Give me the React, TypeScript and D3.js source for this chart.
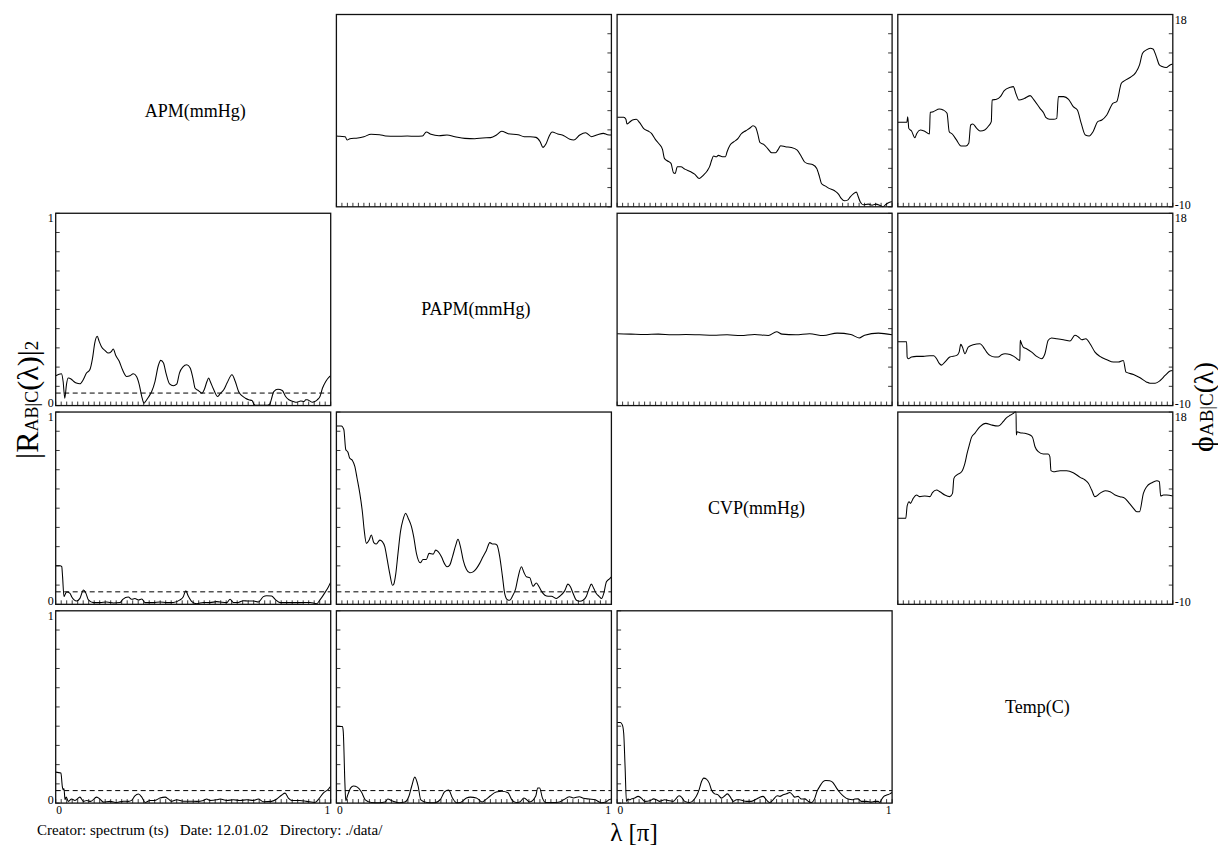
import React from "react";
import * as d3 from "d3";

const W = 1218;
const H = 847;

const variableLabels = ["APM(mmHg)", "PAPM(mmHg)", "CVP(mmHg)", "Temp(C)"];
const coherenceDomain: [number, number] = [0, 1];
const phaseDomain: [number, number] = [-10, 18];
const lambdaDomain: [number, number] = [0, 1];
const significanceLevel = 0.065;
const xTickIntervals = 50;
const yTickIntervals = 10;
const coherenceTickLabels = ["0", "1"];
const phaseTickLabels = ["-10", "18"];
const lambdaTickLabels = ["0", "1"];

type Pt = [number, number];

// phase spectra (upper triangle)
const phaseAPM_PAPM: Pt[] = [[0,0.31],[0.013,0.26],[0.032,0.21],[0.039,-0.28],[0.049,-0.08],[0.078,0.02],[0.1,0.21],[0.126,0.55],[0.157,0.5],[0.179,0.31],[0.215,0.26],[0.258,0.31],[0.287,0.26],[0.313,0.31],[0.327,0.89],[0.344,0.55],[0.373,0.35],[0.402,0.45],[0.431,0.21],[0.467,-0.04],[0.503,-0.08],[0.532,0.02],[0.561,0.07],[0.582,0.45],[0.601,0.99],[0.625,0.65],[0.661,0.5],[0.683,0.21],[0.705,0.21],[0.726,0.11],[0.741,-0.52],[0.751,-1.35],[0.762,-0.86],[0.774,0.31],[0.784,0.89],[0.805,0.6],[0.827,0.35],[0.849,-0.18],[0.863,-0.28],[0.885,0.45],[0.906,0.79],[0.928,0.21],[0.95,0.5],[0.971,0.69],[0.986,0.5],[1,0.45]];

const phaseAPM_CVP: Pt[] = [[0,3.03],[0.024,3.03],[0.032,2.74],[0.036,2.06],[0.046,2.35],[0.056,2.64],[0.07,2.74],[0.082,2.25],[0.096,1.42],[0.113,1.03],[0.125,0.69],[0.139,-0.18],[0.153,-0.86],[0.165,-1.64],[0.172,-2.95],[0.182,-3.29],[0.196,-3.68],[0.205,-5.04],[0.211,-5.14],[0.219,-4.17],[0.232,-4.17],[0.246,-4.51],[0.268,-4.9],[0.282,-5.24],[0.299,-5.87],[0.314,-5.38],[0.328,-4.75],[0.337,-4.07],[0.344,-3.19],[0.351,-2.61],[0.361,-2.71],[0.368,-2.51],[0.383,-2.71],[0.394,-2.71],[0.4,-1.98],[0.411,-1.01],[0.425,-0.52],[0.44,-0.03],[0.451,0.6],[0.468,1.08],[0.483,1.47],[0.494,1.81],[0.504,1.57],[0.511,0.69],[0.52,-0.67],[0.533,-0.91],[0.547,-1.49],[0.562,-2.13],[0.576,-2.13],[0.586,-1.64],[0.595,-1.1],[0.612,-1.25],[0.633,-1.35],[0.655,-1.74],[0.669,-2.61],[0.681,-3.44],[0.691,-3.68],[0.712,-3.88],[0.726,-4.41],[0.736,-5.63],[0.743,-6.6],[0.758,-6.99],[0.769,-7.28],[0.791,-7.67],[0.805,-8.15],[0.815,-8.78],[0.827,-9.13],[0.838,-9.03],[0.848,-8.54],[0.858,-8.15],[0.87,-7.86],[0.877,-8.54],[0.884,-9.27],[0.895,-9.71],[0.913,-9.61],[0.927,-9.76],[0.941,-9.61],[0.956,-9.81],[0.967,-10],[0.977,-9.66],[0.989,-9.37],[1,-9.27]];

const phaseAPM_Temp: Pt[] = [[0,2.3],[0.033,2.3],[0.036,3.12],[0.04,1.42],[0.05,1.03],[0.062,0.06],[0.069,0.69],[0.082,1.18],[0.096,1.03],[0.115,0.6],[0.118,3.76],[0.129,3.85],[0.151,4.24],[0.165,4.1],[0.179,3.61],[0.187,0.94],[0.198,0.6],[0.212,-0.18],[0.23,-1.15],[0.248,-1.15],[0.258,-0.76],[0.265,1.91],[0.273,2.06],[0.287,1.42],[0.301,1.03],[0.316,1.18],[0.33,1.76],[0.34,2.4],[0.343,5.56],[0.359,5.65],[0.373,6.04],[0.387,6.92],[0.409,7.4],[0.42,7.5],[0.43,6.43],[0.44,5.56],[0.459,5.75],[0.481,6.19],[0.495,5.56],[0.517,4.34],[0.531,3.61],[0.538,3.03],[0.552,2.74],[0.567,2.74],[0.578,2.88],[0.584,6.04],[0.603,6.04],[0.621,5.65],[0.638,4.58],[0.653,4.1],[0.667,2.15],[0.682,0.45],[0.696,0.31],[0.71,0.94],[0.727,2.4],[0.742,2.64],[0.76,3.37],[0.782,5.07],[0.796,5.31],[0.813,7.99],[0.825,8.37],[0.846,8.86],[0.865,9.54],[0.879,10.66],[0.89,12.36],[0.904,12.85],[0.918,13.09],[0.928,12.99],[0.94,11.87],[0.951,10.66],[0.961,10.42],[0.976,10.27],[0.99,10.66],[1,10.81]];

const phasePAPM_CVP: Pt[] = [[0,0.45],[0.05,0.4],[0.1,0.35],[0.15,0.4],[0.2,0.3],[0.25,0.35],[0.3,0.3],[0.35,0.25],[0.4,0.3],[0.45,0.2],[0.5,0.35],[0.55,0.2],[0.58,0.75],[0.6,0.4],[0.65,0.3],[0.7,0.45],[0.75,0.2],[0.8,0.55],[0.85,0.35],[0.88,-0.15],[0.9,0.25],[0.95,0.55],[1,0.3]];

const phasePAPM_Temp: Pt[] = [[0,-0.7],[0.032,-0.7],[0.034,-2.94],[0.038,-3.18],[0.05,-2.94],[0.068,-2.84],[0.092,-2.84],[0.117,-2.74],[0.131,-2.74],[0.141,-3.18],[0.15,-3.82],[0.159,-4.11],[0.171,-3.67],[0.189,-2.94],[0.214,-2.69],[0.223,-2.21],[0.229,-1.09],[0.235,-1.48],[0.244,-2.45],[0.256,-1.48],[0.274,-1.14],[0.299,-0.99],[0.311,-1.48],[0.323,-2.21],[0.335,-2.69],[0.353,-2.94],[0.365,-2.94],[0.377,-2.6],[0.39,-2.45],[0.408,-2.55],[0.426,-2.94],[0.444,-3.43],[0.445,-0.5],[0.45,-0.99],[0.456,-1.48],[0.468,-1.72],[0.487,-2.21],[0.505,-2.84],[0.523,-3.18],[0.535,-2.45],[0.547,-0.5],[0.559,-0.16],[0.578,-0.26],[0.602,-0.41],[0.626,-0.6],[0.644,0.23],[0.657,-0.02],[0.669,-0.41],[0.684,-0.26],[0.699,-0.99],[0.717,-2.21],[0.735,-2.84],[0.76,-3.33],[0.784,-3.67],[0.802,-3.67],[0.82,-3.43],[0.83,-5.13],[0.857,-5.47],[0.881,-5.96],[0.905,-6.59],[0.917,-6.74],[0.936,-6.74],[0.954,-6.35],[0.972,-5.62],[0.99,-4.98],[1,-4.89]];

const phaseCVP_Temp: Pt[] = [[0,2.52],[0.029,2.52],[0.034,4.32],[0.041,4.95],[0.046,4.7],[0.056,5.43],[0.068,5.92],[0.08,5.68],[0.098,5.77],[0.117,5.68],[0.126,6.26],[0.141,6.65],[0.153,6.4],[0.171,5.92],[0.189,5.68],[0.199,6.16],[0.204,8.34],[0.214,8.83],[0.232,9.31],[0.244,10.53],[0.252,11.98],[0.26,13.2],[0.268,14.31],[0.28,14.9],[0.299,15.87],[0.32,16.35],[0.341,16.11],[0.365,15.96],[0.383,16.59],[0.393,17.08],[0.41,17.56],[0.42,17.81],[0.426,18],[0.43,18],[0.431,14.65],[0.434,15.14],[0.444,14.99],[0.462,14.9],[0.481,14.65],[0.49,14.31],[0.499,12.95],[0.511,12.23],[0.529,11.89],[0.547,11.89],[0.553,11.5],[0.557,9.46],[0.566,9.31],[0.59,9.46],[0.614,9.46],[0.638,9.17],[0.663,8.49],[0.681,8.1],[0.693,7.62],[0.705,6.65],[0.717,5.68],[0.735,6.16],[0.754,6.55],[0.772,6.4],[0.79,5.92],[0.808,5.68],[0.826,5.43],[0.842,4.7],[0.857,3.98],[0.869,3.49],[0.879,3.49],[0.893,6.16],[0.905,7.13],[0.924,7.71],[0.942,8.0],[0.951,7.86],[0.956,5.77],[0.966,5.92],[0.978,5.92],[1,5.77]];

// squared partial coherences (lower triangle)
const cohAPM_PAPM: Pt[] = [[0,0.155],[0.021,0.165],[0.027,0.125],[0.033,0.038],[0.039,0.108],[0.045,0.143],[0.057,0.137],[0.066,0.125],[0.075,0.117],[0.088,0.113],[0.1,0.134],[0.112,0.169],[0.124,0.186],[0.134,0.247],[0.142,0.325],[0.151,0.36],[0.158,0.334],[0.167,0.304],[0.179,0.287],[0.191,0.273],[0.203,0.282],[0.209,0.294],[0.219,0.259],[0.231,0.23],[0.243,0.186],[0.258,0.151],[0.27,0.155],[0.282,0.165],[0.294,0.151],[0.304,0.108],[0.313,0.047],[0.321,0.012],[0.328,0.024],[0.337,0.043],[0.349,0.073],[0.361,0.125],[0.373,0.207],[0.382,0.235],[0.392,0.221],[0.401,0.169],[0.414,0.113],[0.428,0.103],[0.44,0.111],[0.45,0.169],[0.462,0.2],[0.477,0.212],[0.489,0.195],[0.499,0.143],[0.507,0.09],[0.519,0.078],[0.532,0.064],[0.54,0.082],[0.55,0.125],[0.556,0.143],[0.562,0.125],[0.574,0.085],[0.589,0.047],[0.599,0.064],[0.611,0.082],[0.623,0.117],[0.641,0.16],[0.653,0.125],[0.665,0.073],[0.678,0.05],[0.69,0.038],[0.702,0.03],[0.714,0.026],[0.72,0.009],[0.726,0.001],[0.738,0.001],[0.757,0.001],[0.769,0.001],[0.779,0.009],[0.787,0.047],[0.793,0.073],[0.808,0.085],[0.824,0.078],[0.836,0.047],[0.848,0.03],[0.864,0.021],[0.876,0.017],[0.891,0.024],[0.903,0.021],[0.909,0.03],[0.915,0.03],[0.925,0.023],[0.933,0.017],[0.942,0.021],[0.951,0.03],[0.961,0.047],[0.97,0.09],[0.982,0.125],[0.994,0.148],[1,0.155]];

const cohAPM_CVP: Pt[] = [[0,0.201],[0.016,0.201],[0.022,0.196],[0.025,0.144],[0.03,0.04],[0.035,0.054],[0.04,0.064],[0.052,0.057],[0.058,0.04],[0.067,0.023],[0.076,0.017],[0.088,0.031],[0.101,0.075],[0.11,0.057],[0.119,0.023],[0.137,0.009],[0.161,0.009],[0.185,0.012],[0.21,0.007],[0.234,0.009],[0.244,0.026],[0.264,0.038],[0.276,0.026],[0.288,0.03],[0.301,0.023],[0.313,0.028],[0.325,0.009],[0.355,0.009],[0.379,0.012],[0.404,0.009],[0.428,0.01],[0.452,0.023],[0.464,0.04],[0.473,0.071],[0.482,0.043],[0.495,0.014],[0.513,0.003],[0.537,0.01],[0.561,0.009],[0.585,0.014],[0.598,0.012],[0.622,0.009],[0.634,0.026],[0.646,0.01],[0.664,0.01],[0.682,0.019],[0.701,0.017],[0.719,0.017],[0.737,0.012],[0.755,0.04],[0.767,0.045],[0.785,0.043],[0.798,0.026],[0.816,0.009],[0.852,0.009],[0.888,0.009],[0.925,0.01],[0.949,0.003],[0.961,0.023],[0.979,0.061],[0.992,0.092],[1,0.115]];

const cohAPM_Temp: Pt[] = [[0,0.161],[0.019,0.156],[0.024,0.087],[0.028,0.069],[0.03,0.076],[0.034,0.017],[0.038,0.031],[0.046,0.009],[0.058,0.021],[0.07,0.014],[0.088,0.031],[0.101,0.009],[0.113,0.014],[0.127,0.009],[0.149,0.031],[0.161,0.021],[0.173,0.005],[0.198,0.009],[0.222,0.003],[0.246,0.01],[0.264,0.009],[0.276,0.014],[0.288,0.038],[0.301,0.047],[0.313,0.031],[0.325,0.003],[0.343,0.014],[0.361,0.014],[0.379,0.026],[0.398,0.031],[0.41,0.021],[0.422,0.009],[0.44,0.017],[0.464,0.01],[0.488,0.01],[0.513,0.009],[0.537,0.014],[0.549,0.021],[0.561,0.014],[0.585,0.017],[0.598,0.021],[0.622,0.014],[0.646,0.017],[0.67,0.014],[0.695,0.017],[0.719,0.014],[0.737,0.021],[0.755,0.007],[0.785,0.009],[0.804,0.021],[0.822,0.042],[0.834,0.052],[0.846,0.026],[0.858,0.014],[0.888,0.014],[0.913,0.009],[0.943,0.003],[0.959,0.026],[0.973,0.052],[0.992,0.073],[1,0.087]];

const cohPAPM_CVP: Pt[] = [[0,0.927],[0.018,0.927],[0.027,0.909],[0.034,0.805],[0.042,0.791],[0.048,0.761],[0.058,0.749],[0.067,0.718],[0.075,0.657],[0.085,0.578],[0.095,0.474],[0.101,0.387],[0.109,0.317],[0.119,0.334],[0.127,0.361],[0.136,0.321],[0.145,0.314],[0.158,0.334],[0.167,0.326],[0.176,0.3],[0.184,0.239],[0.194,0.16],[0.204,0.099],[0.208,0.103],[0.216,0.16],[0.224,0.265],[0.233,0.378],[0.242,0.439],[0.252,0.474],[0.261,0.448],[0.273,0.404],[0.281,0.352],[0.291,0.265],[0.305,0.216],[0.315,0.233],[0.327,0.233],[0.337,0.265],[0.352,0.261],[0.361,0.282],[0.37,0.274],[0.382,0.247],[0.394,0.209],[0.402,0.195],[0.412,0.204],[0.422,0.247],[0.434,0.308],[0.442,0.338],[0.451,0.3],[0.461,0.23],[0.473,0.181],[0.485,0.164],[0.497,0.169],[0.509,0.186],[0.521,0.213],[0.533,0.247],[0.545,0.279],[0.558,0.321],[0.567,0.314],[0.576,0.314],[0.584,0.308],[0.594,0.247],[0.604,0.143],[0.612,0.056],[0.622,0.024],[0.63,0.021],[0.64,0.042],[0.652,0.082],[0.661,0.143],[0.673,0.195],[0.681,0.169],[0.691,0.143],[0.703,0.139],[0.715,0.094],[0.727,0.111],[0.737,0.091],[0.745,0.07],[0.758,0.047],[0.77,0.042],[0.782,0.042],[0.8,0.03],[0.812,0.042],[0.83,0.07],[0.842,0.105],[0.851,0.091],[0.861,0.056],[0.873,0.021],[0.885,0.016],[0.897,0.021],[0.909,0.042],[0.919,0.082],[0.927,0.105],[0.936,0.082],[0.945,0.056],[0.955,0.042],[0.964,0.03],[0.972,0.056],[0.982,0.117],[0.994,0.134],[1,0.143]];

const cohPAPM_Temp: Pt[] = [[0,0.4],[0.022,0.398],[0.025,0.37],[0.031,0.1],[0.034,0.012],[0.04,0.037],[0.052,0.079],[0.062,0.089],[0.076,0.083],[0.091,0.058],[0.105,0.017],[0.127,0.003],[0.156,0.002],[0.177,0.006],[0.187,0.021],[0.202,0.012],[0.228,0.002],[0.249,0.006],[0.264,0.037],[0.274,0.089],[0.285,0.135],[0.297,0.089],[0.307,0.017],[0.329,0.003],[0.357,0.002],[0.379,0.021],[0.393,0.058],[0.408,0.068],[0.422,0.027],[0.437,0.002],[0.451,0.003],[0.473,0.027],[0.487,0.031],[0.509,0.027],[0.53,0.006],[0.545,0.021],[0.559,0.037],[0.581,0.058],[0.602,0.062],[0.624,0.054],[0.638,0.017],[0.653,0.003],[0.667,0.006],[0.682,0.027],[0.703,0.006],[0.725,0.037],[0.732,0.079],[0.739,0.079],[0.749,0.027],[0.761,0.003],[0.79,0.003],[0.811,0.006],[0.826,0.017],[0.847,0.033],[0.862,0.027],[0.883,0.033],[0.898,0.025],[0.919,0.021],[0.941,0.017],[0.963,0.002],[0.98,0.006],[0.991,0.017],[1,0.021]];

const cohCVP_Temp: Pt[] = [[0,0.419],[0.012,0.419],[0.019,0.407],[0.024,0.363],[0.029,0.19],[0.034,0.009],[0.04,0.021],[0.046,0.017],[0.052,0.022],[0.064,0.026],[0.076,0.035],[0.088,0.026],[0.101,0.009],[0.119,0.012],[0.133,0.022],[0.143,0.017],[0.155,0.009],[0.173,0.017],[0.192,0.012],[0.204,0.009],[0.216,0.026],[0.225,0.038],[0.234,0.031],[0.246,0.009],[0.264,0.003],[0.279,0.017],[0.288,0.035],[0.298,0.069],[0.307,0.112],[0.315,0.13],[0.325,0.125],[0.335,0.104],[0.343,0.069],[0.355,0.048],[0.367,0.043],[0.379,0.026],[0.392,0.038],[0.401,0.048],[0.412,0.031],[0.422,0.009],[0.434,0.017],[0.446,0.017],[0.458,0.012],[0.47,0.009],[0.488,0.009],[0.507,0.021],[0.519,0.031],[0.531,0.035],[0.543,0.017],[0.555,0.003],[0.567,0.017],[0.582,0.038],[0.592,0.035],[0.604,0.043],[0.616,0.048],[0.628,0.055],[0.638,0.043],[0.646,0.031],[0.658,0.035],[0.67,0.021],[0.682,0.022],[0.695,0.009],[0.707,0.003],[0.719,0.026],[0.727,0.061],[0.737,0.087],[0.749,0.112],[0.759,0.118],[0.773,0.116],[0.785,0.107],[0.798,0.078],[0.81,0.055],[0.824,0.035],[0.84,0.021],[0.856,0.017],[0.864,0.021],[0.876,0.022],[0.888,0.009],[0.907,0.009],[0.925,0.005],[0.937,0.009],[0.949,0.009],[0.955,0.003],[0.961,0.017],[0.97,0.035],[0.982,0.043],[0.992,0.048],[1,0.055]];

// matrix of series: row r, column c
const seriesMatrix: (Pt[] | null)[][] = [
  [null, phaseAPM_PAPM, phaseAPM_CVP, phaseAPM_Temp],
  [cohAPM_PAPM, null, phasePAPM_CVP, phasePAPM_Temp],
  [cohAPM_CVP, cohPAPM_CVP, null, phaseCVP_Temp],
  [cohAPM_Temp, cohPAPM_Temp, cohCVP_Temp, null],
];

const FONT = "Liberation Serif, Times New Roman, serif";

// layout
const colPos = d3.scaleLinear().domain([0, 3]).range([55.7, 897.8]);
const rowPos = d3.scaleLinear().domain([0, 3]).range([14.5, 610.8]);
const PW = 275;
const PH = 192.3;

const txt = { fontFamily: FONT, fill: "#000" } as const;

function Panel({ r, c }: { r: number; c: number }) {
  const x0 = colPos(c);
  const y0 = rowPos(r);
  const data = seriesMatrix[r][c];
  const isPhase = c > r;
  const xs = d3.scaleLinear().domain(lambdaDomain).range([x0, x0 + PW]);
  const ys = d3
    .scaleLinear()
    .domain(isPhase ? phaseDomain : coherenceDomain)
    .range([y0 + PH, y0]);
  const line = d3
    .line<Pt>()
    .x((d) => xs(d[0]))
    .y((d) => ys(d[1]))
    .curve(d3.curveMonotoneX);
  const xTicks = d3.range(xTickIntervals + 1).map((i) => i / xTickIntervals);
  const dom = isPhase ? phaseDomain : coherenceDomain;
  const yTicks = d3.range(yTickIntervals + 1).map((i) => dom[0] + ((dom[1] - dom[0]) * i) / yTickIntervals);
  const clipId = `clip-${r}-${c}`;
  const tl = 4;
  return (
    <g>
      <defs>
        <clipPath id={clipId}>
          <rect x={x0} y={y0 - 1} width={PW} height={PH + 2} />
        </clipPath>
      </defs>
      {xTicks.map((t, i) => (
        <line key={"xt" + i} x1={xs(t)} x2={xs(t)} y1={y0 + PH} y2={y0 + PH - tl} stroke="#222" strokeWidth={0.9} />
      ))}
      {yTicks.map((t, i) =>
        isPhase ? (
          <line key={"yt" + i} x1={x0 + PW} x2={x0 + PW - tl} y1={ys(t)} y2={ys(t)} stroke="#222" strokeWidth={0.9} />
        ) : (
          <line key={"yt" + i} x1={x0} x2={x0 + tl} y1={ys(t)} y2={ys(t)} stroke="#222" strokeWidth={0.9} />
        )
      )}
      {!isPhase && (
        <line
          x1={xs(0)}
          x2={xs(1)}
          y1={ys(significanceLevel)}
          y2={ys(significanceLevel)}
          stroke="#000"
          strokeWidth={1}
          strokeDasharray="5,3.5"
        />
      )}
      {data && (
        <path d={line(data) || ""} fill="none" stroke="#000" strokeWidth={1.05} clipPath={`url(#${clipId})`} />
      )}
      <rect x={x0} y={y0} width={PW} height={PH} fill="none" stroke="#111" strokeWidth={1.3} />
      {!isPhase && c === 0 && (
        <g>
          <text {...txt} fontSize={12} textAnchor="end" x={x0 - 2} y={y0 + PH + 1}>{coherenceTickLabels[0]}</text>
          <text {...txt} fontSize={12} textAnchor="end" x={x0 - 2} y={y0 + 9}>{coherenceTickLabels[1]}</text>
        </g>
      )}
      {isPhase && c === 3 && (
        <g>
          <text {...txt} fontSize={12} textAnchor="start" x={x0 + PW + 2} y={y0 + PH + 2}>{phaseTickLabels[0]}</text>
          <text {...txt} fontSize={12} textAnchor="start" x={x0 + PW + 2} y={y0 + 9}>{phaseTickLabels[1]}</text>
        </g>
      )}
      {!isPhase && r === 3 && (
        <g>
          <text {...txt} fontSize={11.5} textAnchor="start" x={xs(0) + 0.5} y={y0 + PH + 10.5}>{lambdaTickLabels[0]}</text>
          <text {...txt} fontSize={11.5} textAnchor="end" x={xs(1) - 0.5} y={y0 + PH + 10.5}>{lambdaTickLabels[1]}</text>
        </g>
      )}
    </g>
  );
}

export default function App() {
  const cells: { r: number; c: number }[] = [];
  for (let r = 0; r < 4; r++) for (let c = 0; c < 4; c++) cells.push({ r, c });
  return (
    <svg
      width={W}
      height={H}
      viewBox={`0 0 ${W} ${H}`}
      style={{ position: "absolute", left: 0, top: 0, background: "#fff" }}
    >
      <rect x={0} y={0} width={W} height={H} fill="#fff" />
      {cells
        .filter((d) => d.r !== d.c)
        .map((d) => (
          <Panel key={`${d.r}-${d.c}`} r={d.r} c={d.c} />
        ))}
      {variableLabels.map((lab, i) => (
        <text
          key={lab}
          {...txt}
          x={colPos(i) + PW / 2 + 2}
          y={rowPos(i) + PH / 2 + 6}
          fontSize={18}
          textAnchor="middle"
        >
          {lab}
        </text>
      ))}
      {/* left axis title */}
      <text {...txt} transform="translate(38,400) rotate(-90)" textAnchor="middle">
        <tspan fontSize={32}>|R</tspan>
        <tspan fontSize={18}>AB|C</tspan>
        <tspan fontSize={30}>(λ)|</tspan>
        <tspan fontSize={19}>2</tspan>
      </text>
      {/* right axis title */}
      <text {...txt} transform="translate(1213,407) rotate(-90)" textAnchor="middle">
        <tspan fontSize={30}>ϕ</tspan>
        <tspan fontSize={19}>AB|C</tspan>
        <tspan fontSize={27}>(λ)</tspan>
      </text>
      {/* bottom axis title */}
      <text {...txt} x={634} y={841} fontSize={25} textAnchor="middle">
        λ [π]
      </text>
      <text {...txt} x={37} y={835} fontSize={15} style={{ whiteSpace: "pre" }}>
        {"Creator: spectrum (ts)   Date: 12.01.02   Directory: ./data/"}
      </text>
    </svg>
  );
}
